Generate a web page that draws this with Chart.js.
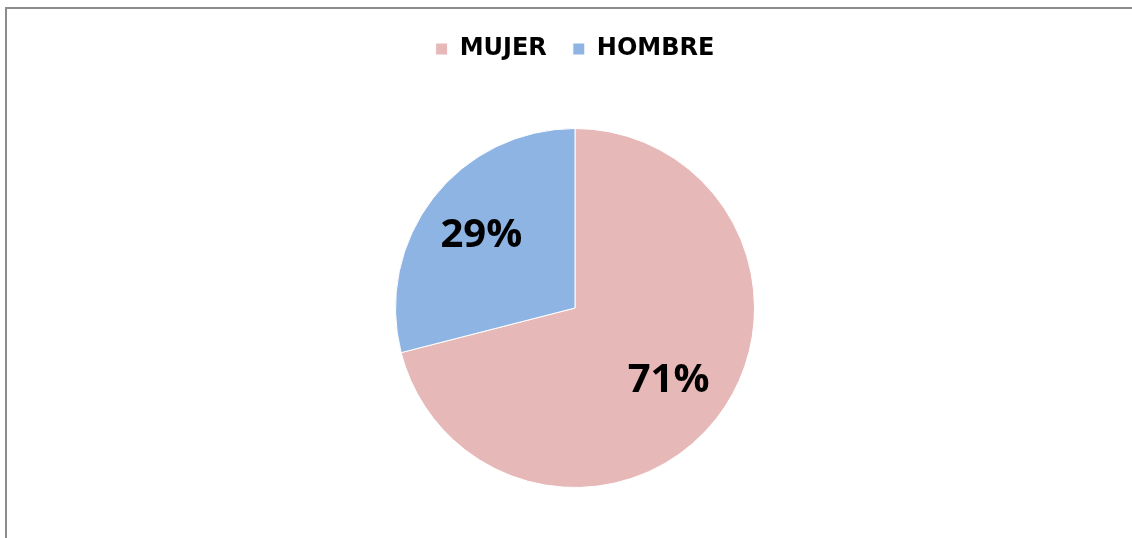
<!DOCTYPE html>
<html>
<head>
<meta charset="utf-8">
<script src="https://cdn.jsdelivr.net/npm/chart.js@4/dist/chart.umd.min.js"></script>
<style>
  html, body { margin: 0; padding: 0; background: #fff; overflow: hidden; }
  #frame {
    position: absolute; left: 5px; top: 7px; width: 1140px; height: 560px;
    border: 2px solid #8c8c8c; box-sizing: border-box;
  }
  #wrap { position: absolute; left: 0; top: 0; width: 1132px; height: 538px; }
</style>
</head>
<body>
<div id="frame"></div>
<div id="wrap"><canvas id="pie" width="1132" height="538"></canvas></div>
<script>
// Datos del gráfico
const categorias = ["MUJER", "HOMBRE"];
const porcentajes = [71, 29];
const colores = ["#E6B8B7", "#8EB4E3"];

// etiquetas de porcentaje dentro de cada sector
const etiquetasPct = {
  id: "etiquetasPct",
  afterDatasetsDraw(chart) {
    const ctx = chart.ctx;
    const meta = chart.getDatasetMeta(0);
    ctx.save();
    ctx.font = "bold 40px 'Open Sans', sans-serif";
    ctx.fillStyle = "#000";
    ctx.textAlign = "center";
    ctx.textBaseline = "middle";
    meta.data.forEach((arc, i) => {
      const mid = (arc.startAngle + arc.endAngle) / 2;
      const r = arc.outerRadius * 0.66;
      ctx.fillText(porcentajes[i] + "%", arc.x + Math.cos(mid) * r, arc.y + Math.sin(mid) * r);
    });
    ctx.restore();
  }
};

// espacio extra debajo de la leyenda
const espacioLeyenda = {
  id: "espacioLeyenda",
  beforeInit(chart) {
    const fitOrig = chart.legend.fit;
    chart.legend.fit = function () {
      fitOrig.bind(chart.legend)();
      this.height += 57;
    };
  }
};

new Chart(document.getElementById("pie"), {
  type: "pie",
  data: {
    labels: categorias,
    datasets: [{
      data: porcentajes,
      backgroundColor: colores,
      borderColor: "#ffffff",
      borderWidth: 1
    }]
  },
  options: {
    responsive: false,
    animation: false,
    layout: { padding: { top: 11, bottom: 50, left: 18, right: 0 } },
    plugins: {
      legend: {
        position: "top",
        labels: {
          boxWidth: 12, boxHeight: 12, padding: 26,
          color: "#000",
          font: { family: "'DejaVu Sans', sans-serif", size: 24, weight: "bold" }
        }
      },
      tooltip: { enabled: false }
    }
  },
  plugins: [etiquetasPct, espacioLeyenda]
});
</script>
</body>
</html>
